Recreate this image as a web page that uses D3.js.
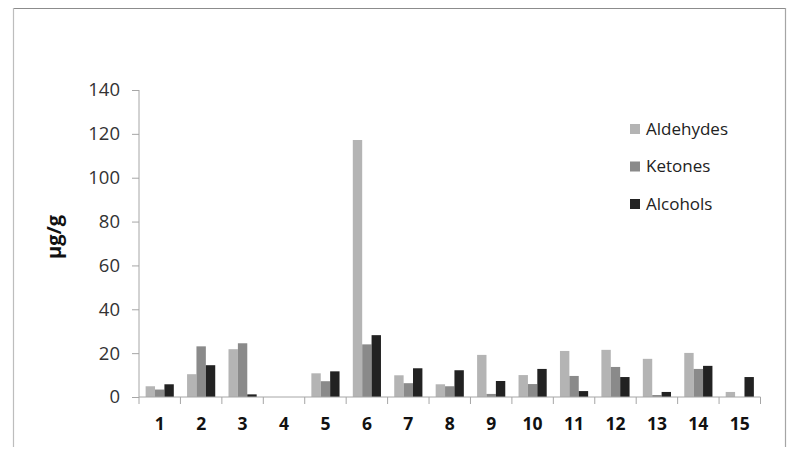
<!DOCTYPE html>
<html><head><meta charset="utf-8">
<script src="https://cdn.jsdelivr.net/npm/d3@7"></script>
<style>body{margin:0;background:#fff}svg{display:block}</style>
</head><body><svg id="c" width="795" height="456"></svg>
<script>
const categories = ["1","2","3","4","5","6","7","8","9","10","11","12","13","14","15"];
const seriesNames = ["Aldehydes","Ketones","Alcohols"];
const aldehydes = [4.9,10.4,21.8,0,10.8,117.2,9.9,5.8,19.2,10.0,21.0,21.5,17.4,20.1,2.3];
const ketones   = [3.4,23.1,24.5,0,7.2,24.0,6.3,4.9,1.4,5.9,9.6,13.7,0.9,12.8,0];
const alcohols  = [5.8,14.5,1.2,0,11.7,28.2,13.1,12.2,7.3,12.8,2.7,9.1,2.3,14.2,9.1];
const yTicks = [0,20,40,60,80,100,120,140];
const colors = ["#b4b4b4","#8a8a8a","#222222"];

const svg = d3.select("#c");
const font = "'Open Sans', sans-serif";

// frame
svg.append("line").attr("x1",13).attr("x2",785.5).attr("y1",8.5).attr("y2",8.5).attr("stroke","#8c8c8c").attr("stroke-width",1.2);
svg.append("line").attr("x1",13.5).attr("x2",13.5).attr("y1",8).attr("y2",447).attr("stroke","#bdbdbd").attr("stroke-width",1.2);
svg.append("line").attr("x1",785.5).attr("x2",785.5).attr("y1",8).attr("y2",447).attr("stroke","#a5a5a5").attr("stroke-width",1.2);

const x0 = d3.scaleBand().domain(categories).range([139,760.5]).paddingInner(0.32).paddingOuter(0.16);
const x1 = d3.scaleBand().domain(seriesNames).range([0,x0.bandwidth()]);
const y = d3.scaleLinear().domain([0,140]).range([397,90]);

const data = categories.map((c,i)=>({c, vals:[aldehydes[i],ketones[i],alcohols[i]]}));

const g = svg.append("g");
g.selectAll("g.grp").data(data).join("g")
  .attr("transform",d=>`translate(${x0(d.c)},0)`)
  .selectAll("rect").data(d=>d.vals.map((v,k)=>({v,k})))
  .join("rect")
  .attr("x",d=>x1(seriesNames[d.k]))
  .attr("width",x1.bandwidth())
  .attr("y",d=>y(d.v))
  .attr("height",d=>y(0)-y(d.v))
  .attr("fill",d=>colors[d.k]);

// y axis
const yAxis = svg.append("g").attr("transform","translate(139,0)")
  .call(d3.axisLeft(y).tickValues(yTicks).tickSize(7).tickPadding(12).tickFormat(d3.format("d")));
yAxis.select(".domain").attr("stroke","#a6a6a6").attr("d","M0,90V397");
yAxis.selectAll(".tick line").attr("stroke","#a6a6a6");
yAxis.selectAll("text").attr("font-family",font).attr("font-size",18.5).attr("fill","#333");

// x axis
const xAxisG = svg.append("g").attr("transform","translate(0,397)");
xAxisG.append("line").attr("x1",139).attr("x2",760.5).attr("y1",0).attr("y2",0).attr("stroke","#a6a6a6");
const step = x0.step();
const bounds = categories.map(c=>x0(c)-x0.paddingInner()*step/2).concat([760.5]);
xAxisG.selectAll("line.t").data(bounds).join("line").attr("class","t")
  .attr("x1",d=>d).attr("x2",d=>d).attr("y1",0).attr("y2",7).attr("stroke","#a6a6a6");
xAxisG.selectAll("text").data(categories).join("text")
  .attr("x",d=>x0(d)+x0.bandwidth()/2).attr("y",33)
  .attr("text-anchor","middle").attr("font-family",font).attr("font-weight","bold")
  .attr("font-size",17.5).attr("fill","#111").text(d=>d);

// y label
svg.append("text").attr("transform","translate(61,237) rotate(-90)")
  .attr("text-anchor","middle").attr("font-family",font).attr("font-weight","bold")
  .attr("font-size",20).attr("fill","#111").text("µg/g");

// legend
const leg = svg.append("g").selectAll("g").data(seriesNames).join("g")
  .attr("transform",(d,i)=>`translate(630,${129+i*37.5})`);
leg.append("rect").attr("x",0).attr("y",-5).attr("width",10).attr("height",10).attr("fill",(d,i)=>colors[i]);
leg.append("text").attr("x",16).attr("y",0).attr("dy","0.35em").attr("font-family",font)
  .attr("font-size",17).attr("fill","#222").text(d=>d);
</script></body></html>
